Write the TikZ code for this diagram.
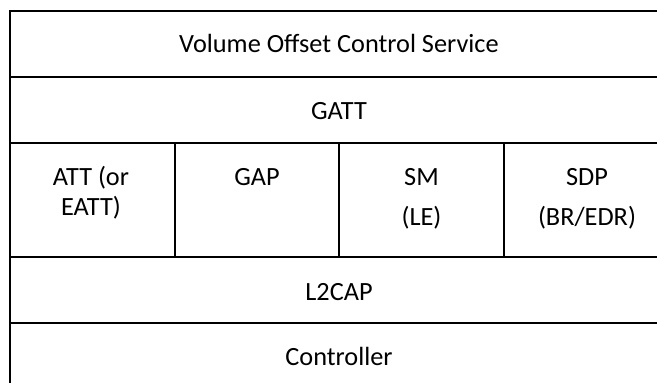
\documentclass[tikz,border=0pt]{standalone}
\usepackage{fontspec}
\setmainfont{Carlito}
\begin{document}
\begin{tikzpicture}[x=1pt,y=-1pt,
  grid/.style={line width=1.8pt,line cap=rect},
  lbl/.style={inner sep=0pt,anchor=base,align=center,font=\fontsize{26.3}{31.6}\selectfont}]
\useasboundingbox (0,0) rectangle (657,383);
\fill[white] (0,0) rectangle (657,383);
\clip (0,0) rectangle (657,383);
% grid
\draw[grid] (10,11) rectangle (668,389);
\draw[grid] (10,77) -- (668,77);
\draw[grid] (10,143) -- (668,143);
\draw[grid] (10,257) -- (668,257);
\draw[grid] (10,323) -- (668,323);
\draw[grid] (175,143) -- (175,257);
\draw[grid] (339,143) -- (339,257);
\draw[grid] (504,143) -- (504,257);
% labels
\node[lbl] (vocs) at (339,52) {Volume Offset Control Service};
\node[lbl] (gatt) at (339,119) {GATT};
\node[lbl] (att1) at (91,185) {ATT (or};
\node[lbl] (att2) at (91,215) {EATT)};
\node[lbl] (gap) at (257,185) {GAP};
\node[lbl] (sm1) at (421.5,185) {SM};
\node[lbl] (sm2) at (421.5,225) {(LE)};
\node[lbl] (sdp1) at (587,185) {SDP};
\node[lbl] (sdp2) at (587,225) {(BR/EDR)};
\node[lbl] (l2cap) at (339,300) {L2CAP};
\node[lbl] (ctrl) at (339,365) {Controller};
\end{tikzpicture}
\end{document}
